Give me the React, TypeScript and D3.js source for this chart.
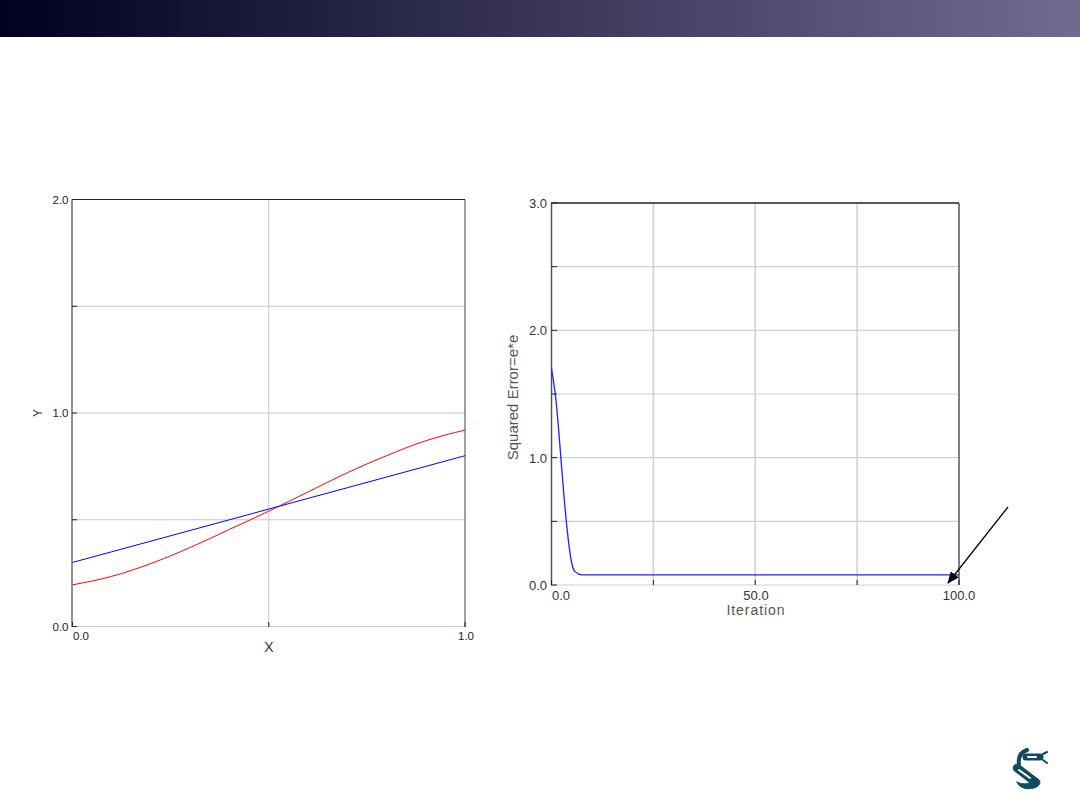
import React from "react";
import * as d3 from "d3";

const leftX = [0, 0.1, 0.2, 0.3, 0.4, 0.5, 0.6, 0.7, 0.8, 0.9, 1];
const leftRed = [0.195, 0.235, 0.295, 0.37, 0.455, 0.54, 0.63, 0.72, 0.8, 0.87, 0.92];
const leftBlue = [0.3, 0.35, 0.4, 0.45, 0.5, 0.55, 0.6, 0.65, 0.7, 0.75, 0.8];
const leftXTicks = [0, 0.5, 1];
const leftYTicks = [0, 0.5, 1, 1.5, 2];

const iterations = [0, 1.1, 1.7, 2.3, 2.9, 3.7, 4.5, 5.0, 5.8, 7.4, 100];
const squaredError = [1.7, 1.45, 1.24, 1.0, 0.76, 0.48, 0.26, 0.165, 0.105, 0.08, 0.08];
const rightXTicks = [0, 25, 50, 75, 100];
const rightYTicks = [0, 0.5, 1, 1.5, 2, 2.5, 3];

const sans = "'Liberation Sans', Arial, sans-serif";

const xL = d3.scaleLinear().domain([0, 1]).range([72.5, 465]);
const yL = d3.scaleLinear().domain([0, 2]).range([626.5, 199.5]);
const xR = d3.scaleLinear().domain([0, 100]).range([551.5, 959]);
const yR = d3.scaleLinear().domain([0, 3]).range([585, 203]);

const lineL = (vals: number[]) =>
  d3.line<number>().x((_, i) => xL(leftX[i])).y((d) => yL(d)).curve(d3.curveMonotoneX)(vals) ?? "";
const lineR =
  d3.line<number>().x((_, i) => xR(iterations[i])).y((d) => yR(d)).curve(d3.curveMonotoneX)(squaredError) ?? "";

export default function App() {
  return (
    <svg width={1080} height={810} style={{ position: "absolute", left: 0, top: 0, background: "#fff" }}>
      <defs>
        <linearGradient id="hdr" x1="0" x2="1" y1="0" y2="0">
          <stop offset="0" stopColor="#000020" />
          <stop offset="1" stopColor="#716b92" />
        </linearGradient>
        <marker id="arrow" viewBox="0 0 12 10" refX="11" refY="5" markerWidth="12" markerHeight="10" markerUnits="userSpaceOnUse" orient="auto">
          <path d="M0,0 L12,5 L0,10 Z" fill="#000" />
        </marker>
      </defs>
      <rect x={0} y={0} width={1080} height={37} fill="url(#hdr)" />

      {/* Left chart */}
      <g>
        {leftXTicks.slice(1, -1).map((t) => (
          <line key={t} x1={xL(t)} x2={xL(t)} y1={199.5} y2={626.5} stroke="#c8c8c8" />
        ))}
        {leftYTicks.slice(0, -1).map((t) => (
          <line key={t} x1={72} x2={465} y1={yL(t)} y2={yL(t)} stroke="#c8c8c8" />
        ))}
        <line x1={72} x2={465} y1={199.5} y2={199.5} stroke="#222" />
        <line x1={465} x2={465} y1={199.5} y2={627} stroke="#444" />
        <line x1={72} x2={72} y1={199.5} y2={627} stroke="#555" strokeWidth={1.3} />
        {leftYTicks.map((t) => (
          <g key={t}>
            <line x1={72} x2={77} y1={yL(t)} y2={yL(t)} stroke="#222" />
            {t % 1 === 0 && (
              <text x={68.5} y={yL(t) + 4} textAnchor="end" fontFamily={sans} fontSize={11.5} fill="#222">{t.toFixed(1)}</text>
            )}
          </g>
        ))}
        {leftXTicks.map((t) => (
          <line key={t} x1={xL(t)} x2={xL(t)} y1={622} y2={627} stroke="#222" />
        ))}
        <text x={73} y={640} fontFamily={sans} fontSize={11.5} fill="#222">0.0</text>
        <text x={458} y={640} fontFamily={sans} fontSize={11.5} fill="#222">1.0</text>
        <text x={269} y={652} textAnchor="middle" fontFamily={sans} fontSize={14} fill="#333">X</text>
        <text transform="translate(42,413) rotate(-90)" textAnchor="middle" fontFamily={sans} fontSize={12} fill="#333">Y</text>
        <path d={lineL(leftRed)} fill="none" stroke="#ff0000" strokeWidth={1} />
        <path d={lineL(leftBlue)} fill="none" stroke="#0000ff" strokeWidth={1} />
      </g>

      {/* Right chart */}
      <g>
        {rightXTicks.slice(1, -1).map((t) => (
          <line key={t} x1={xR(t)} x2={xR(t)} y1={203} y2={585} stroke="#cfcfcf" strokeWidth={1.5} />
        ))}
        {rightYTicks.slice(0, -1).map((t) => (
          <line key={t} x1={551} x2={959} y1={yR(t)} y2={yR(t)} stroke="#cfcfcf" strokeWidth={1.2} />
        ))}
        <line x1={551} x2={959} y1={203} y2={203} stroke="#222" strokeWidth={1.5} />
        <line x1={959} x2={959} y1={203} y2={585} stroke="#555" strokeWidth={1.5} />
        <line x1={551.5} x2={551.5} y1={203} y2={585} stroke="#555" strokeWidth={1.5} />
        {rightYTicks.map((t) => (
          <g key={t}>
            <line x1={551} x2={557} y1={yR(t)} y2={yR(t)} stroke="#222" />
            {t % 1 === 0 && (
              <text x={547} y={yR(t) + 5} textAnchor="end" fontFamily={sans} fontSize={13} fill="#333">{t.toFixed(1)}</text>
            )}
          </g>
        ))}
        {rightXTicks.map((t) => (
          <line key={t} x1={xR(t)} x2={xR(t)} y1={580} y2={585} stroke="#222" />
        ))}
        {[0, 50, 100].map((t) => (
          <text key={t} x={t === 0 ? 561 : t === 50 ? 756 : 959} y={600} textAnchor="middle" fontFamily={sans} fontSize={13} fill="#333">{t.toFixed(1)}</text>
        ))}
        <text x={755.5} y={615} textAnchor="middle" fontFamily={sans} fontSize={14} fontWeight={400} fill="#555" textLength={58} lengthAdjust="spacing">Iteration</text>
        <text transform="translate(518,397.5) rotate(-90)" textAnchor="middle" fontFamily={sans} fontSize={15} fill="#555">Squared Error=e*e</text>
        <path d={lineR} fill="none" stroke="#2020ff" strokeWidth={1.3} />
        <line x1={1008} y1={507} x2={948} y2={583} stroke="#000" strokeWidth={1.3} markerEnd="url(#arrow)" />
      </g>

      {/* Logo */}
      <g fill="none" stroke="#134a60" strokeLinecap="round">
        <path d="M1017,782 C1022,785 1032,785 1036,778 C1042,780 1041,786 1034,788 C1027,790 1019,788 1017,782 Z" fill="#134a60" strokeWidth={1} />
        <path d="M1017,768 L1034,781" strokeWidth={8.5} />
        <path d="M1019,770 L1030,778" strokeWidth={2} stroke="#fff" />
        <path d="M1019,764 C1018,757 1021,752 1027,750" strokeWidth={4} />
        <path d="M1026,757 L1040,757" strokeWidth={7} />
        <path d="M1028,757 L1036,757" strokeWidth={2} stroke="#fff" />
        <path d="M1043,754 L1047,752 M1043,760 L1047,763" strokeWidth={2} />
      </g>
    </svg>
  );
}
